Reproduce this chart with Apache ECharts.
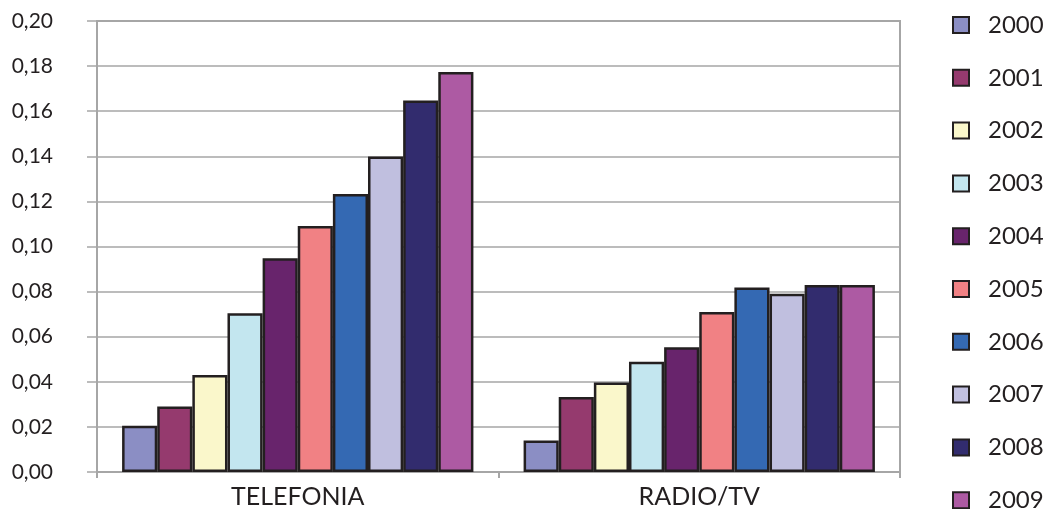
<!DOCTYPE html>
<html>
<head>
<meta charset="utf-8">
<script src="https://cdn.jsdelivr.net/npm/echarts@6/dist/echarts.min.js"></script>
<style>
  html, body { margin: 0; padding: 0; background: #ffffff; }
  #chart { width: 1055px; height: 509px; }
</style>
</head>
<body>
<div id="chart"></div>
<script>
// Categories on the x axis
const categories = ['TELEFONIA', 'RADIO/TV'];

// One series per year
const years = ['2000', '2001', '2002', '2003', '2004', '2005', '2006', '2007', '2008', '2009'];

// Values per year: [TELEFONIA, RADIO/TV]
const v2000 = [0.0205, 0.0140];
const v2001 = [0.0291, 0.0333];
const v2002 = [0.0430, 0.0397];
const v2003 = [0.0704, 0.0489];
const v2004 = [0.0948, 0.0553];
const v2005 = [0.1091, 0.0710];
const v2006 = [0.1233, 0.0818];
const v2007 = [0.1399, 0.0791];
const v2008 = [0.1647, 0.0829];
const v2009 = [0.1774, 0.0829];
const values = [v2000, v2001, v2002, v2003, v2004, v2005, v2006, v2007, v2008, v2009];

const colors = ['#8b8ec4', '#953a6e', '#faf7cb', '#c3e6ef', '#68246c',
                '#f18184', '#3469b3', '#c0bfdf', '#322c6e', '#ad5aa3'];

const FONT = 'Lato, "Open Sans", sans-serif';

// Each year gets its own one-entry legend placed on a fixed row pitch,
// so the whole key column fits the page height
const ROW = 52.8;
const legends = years.map((y, i) => ({
  orient: 'vertical',
  left: 952,
  top: 13 + i * ROW,
  padding: 0,
  itemWidth: 16,
  itemHeight: 16,
  icon: 'rect',
  itemStyle: { borderColor: '#231f20', borderWidth: 2 },
  textStyle: { fontFamily: FONT, fontSize: 24, color: '#231f20', padding: [0, 0, 0, 14] },
  data: [y]
}));

const chart = echarts.init(document.getElementById('chart'), null, { renderer: 'canvas' });

chart.setOption({
  animation: false,
  color: colors,
  grid: { left: 97, right: 155, top: 21, bottom: 37, show: true, borderColor: '#a6a6a6', borderWidth: 2, backgroundColor: 'transparent' },
  legend: legends,
  xAxis: {
    type: 'category',
    data: categories,
    axisLine: { lineStyle: { color: '#a6a6a6', width: 2 } },
    axisTick: { show: true, length: 6, lineStyle: { color: '#a6a6a6', width: 2 } },
    axisLabel: { fontFamily: FONT, fontSize: 25, color: '#231f20', margin: 12 }
  },
  yAxis: {
    type: 'value',
    min: 0,
    max: 0.2,
    interval: 0.02,
    axisLine: { show: true, lineStyle: { color: '#a6a6a6', width: 2 } },
    axisTick: { show: true, length: 10, lineStyle: { color: '#a6a6a6', width: 1.5 } },
    splitLine: { lineStyle: { color: '#a6a6a6', width: 1.5 } },
    axisLabel: {
      fontFamily: FONT, fontSize: 21, color: '#231f20', margin: 44,
      formatter: v => v.toFixed(2).replace('.', ',')
    }
  },
  series: years.map((y, i) => ({
    name: y,
    type: 'bar',
    data: values[i],
    barGap: '0%',
    barCategoryGap: '12.5%',
    itemStyle: { color: colors[i], borderColor: '#231f20', borderWidth: 2.5 }
  }))
});
</script>
</body>
</html>
